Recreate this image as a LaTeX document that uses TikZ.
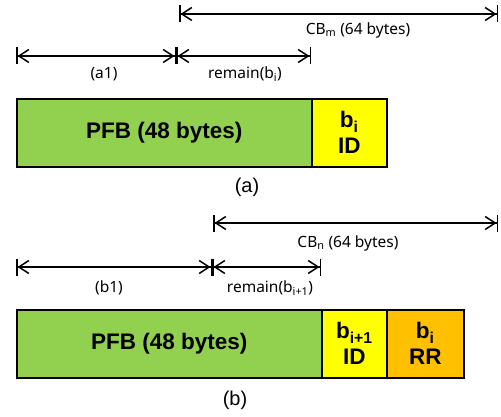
\documentclass[tikz,border=0pt]{standalone}
\usepackage{fontspec}
\setmainfont{Liberation Sans}
\newfontfamily\dimfont{Noto Sans}
\usetikzlibrary{arrows.meta}
\definecolor{pfbgreen}{HTML}{92D050}
\definecolor{idyellow}{HTML}{FFFF00}
\definecolor{rrorange}{HTML}{FFC000}
\begin{document}
\begin{tikzpicture}[x=1pt,y=-1pt,
  field/.style={draw=black, line width=1.6pt, inner sep=0pt, anchor=north west,
    minimum height=68pt, align=center,
    font=\bfseries\fontsize{22.5}{26}\selectfont},
  dim/.style={line width=1.5pt,
    arrows={Bar[width=17pt]Straight Barb[length=10pt,width=13pt]-Straight Barb[length=10pt,width=13pt]Bar[width=17pt]}},
  dimlabel/.style={font=\dimfont\fontsize{15.5}{18}\selectfont, inner sep=0pt},
  caption/.style={font=\fontsize{20}{24}\selectfont, inner sep=0pt}]
\useasboundingbox (0,0) rectangle (501,417);

% ---- (a) ----
\coordinate (cbmL) at (179,14);
\coordinate (cbmR) at (498,14);
\draw[dim] (cbmL) -- (cbmR);
\node[dimlabel] (cbmlab) at (358,30) {CB\textsubscript{m} (64 bytes)};

\coordinate (aL) at (16,56);
\coordinate (aM) at (176,56);
\coordinate (aR) at (311,56);
\draw[dim] (aL) -- (aM);
\draw[dim] (aM) -- (aR);
\node[dimlabel] (a1lab) at (104,74) {(a1)};
\node[dimlabel] (remAlab) at (245,74) {remain(b\textsubscript{i})};

\node[field, fill=pfbgreen, minimum width=295pt] (pfbA) at (16,98) {PFB (48 bytes)};
\node[field, fill=idyellow, minimum width=75pt] (idA) at (311,98) {b\textsubscript{i}\\ID};
\node[caption] (capA) at (247,187) {(a)};

% ---- (b) ----
\coordinate (cbnL) at (213,223);
\coordinate (cbnR) at (498,223);
\draw[dim] (cbnL) -- (cbnR);
\node[dimlabel] (cbnlab) at (348,243) {CB\textsubscript{n} (64 bytes)};

\coordinate (bL) at (16,267);
\coordinate (bM) at (212,267);
\coordinate (bR) at (321,267);
\draw[dim] (bL) -- (bM);
\draw[dim] (bM) -- (bR);
\node[dimlabel] (b1lab) at (109,288) {(b1)};
\node[dimlabel] (remBlab) at (270,288) {remain(b\textsubscript{i+1})};

\node[field, fill=pfbgreen, minimum width=305pt] (pfbB) at (16,309) {PFB (48 bytes)};
\node[field, fill=idyellow, minimum width=65pt] (idB) at (321,309) {b\textsubscript{i+1}\\ID};
\node[field, fill=rrorange, minimum width=77pt] (rrB) at (386,309) {b\textsubscript{i}\\RR};
\node[caption] (capB) at (235,400) {(b)};
\end{tikzpicture}
\end{document}
